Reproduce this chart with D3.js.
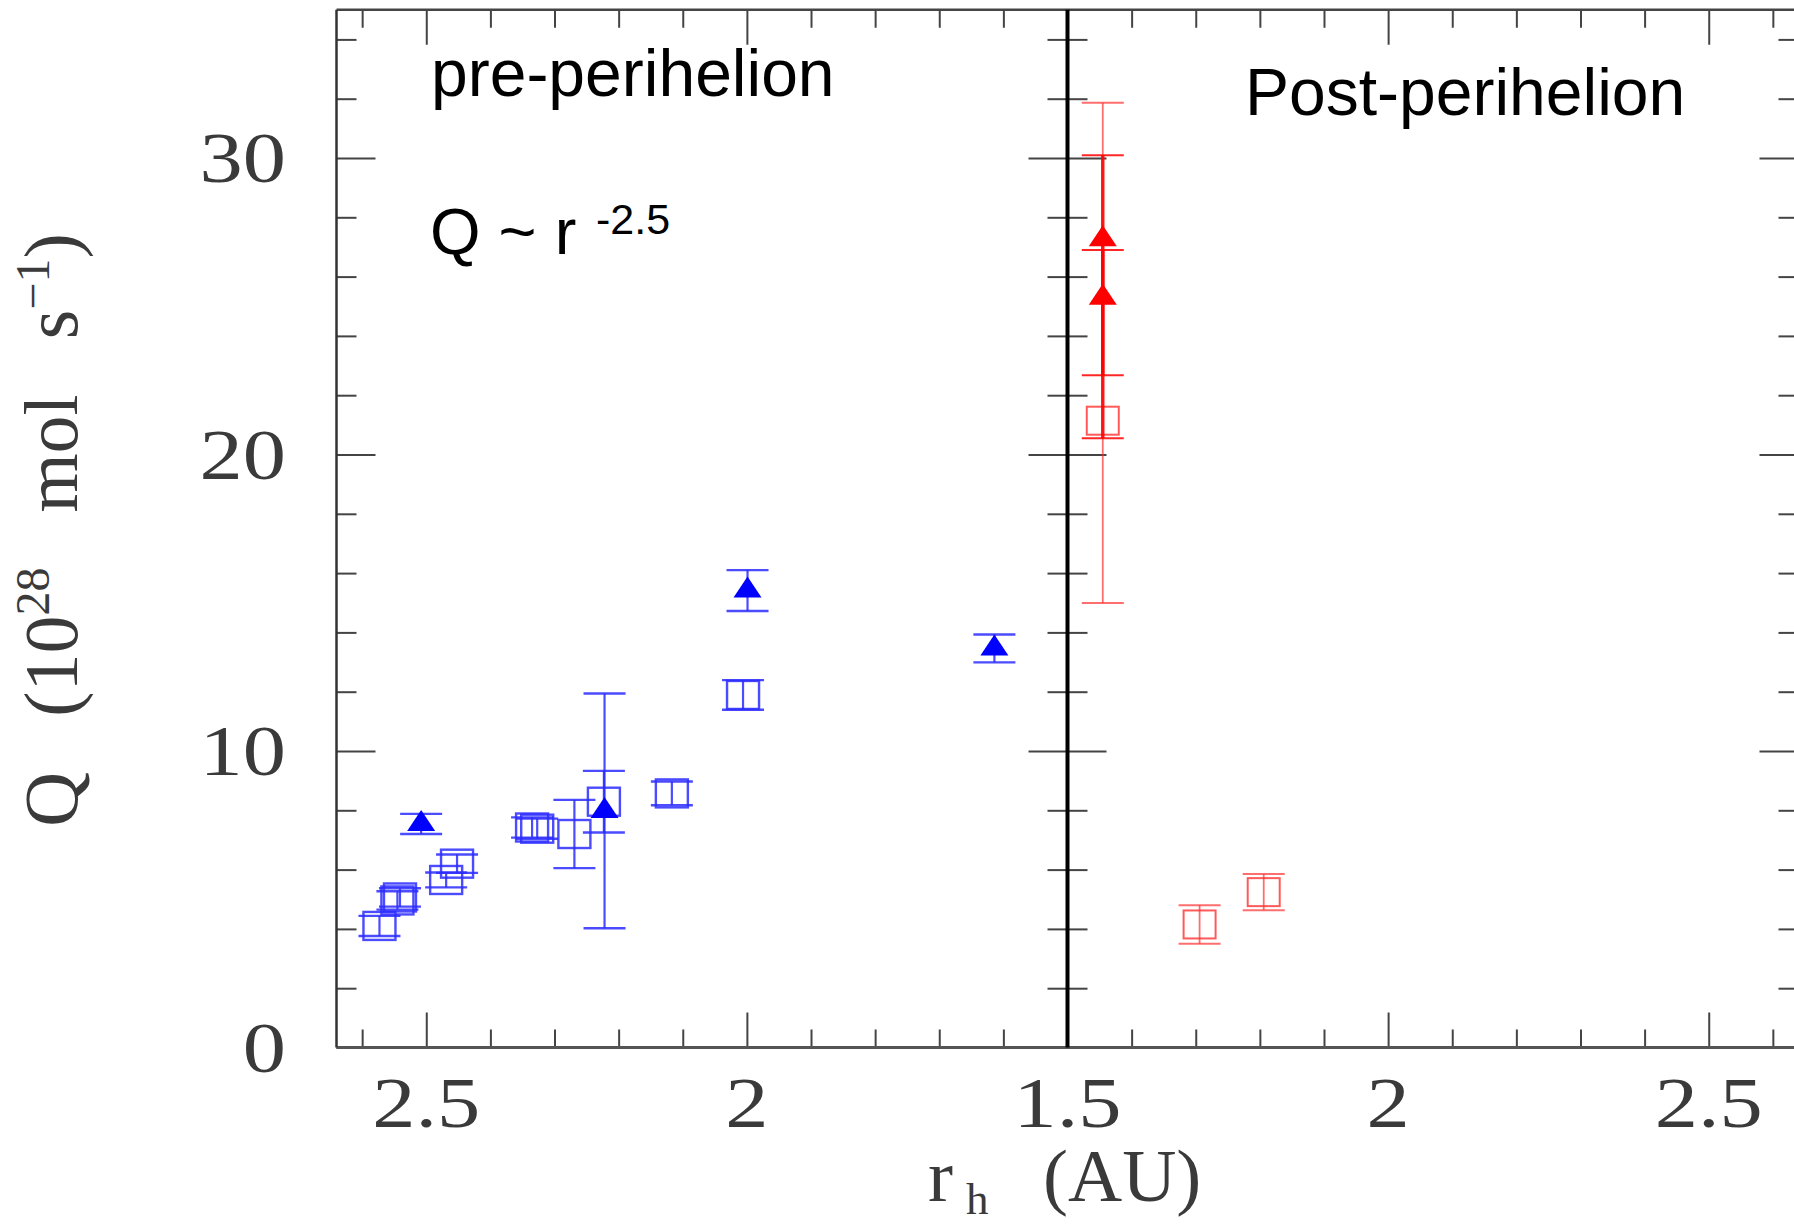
<!DOCTYPE html>
<html>
<head>
<meta charset="utf-8">
<script src="https://cdn.jsdelivr.net/npm/d3@7"></script>
<style>
  body { margin: 0; background: #fff; }
  svg { display: block; }
  .tick line { stroke: #444; stroke-width: 2; }
</style>
</head>
<body>
<svg id="chart"></svg>
<script>
// [r_h, Q, Q_low, Q_high]
const preSquares = [
  [2.573, 4.10, 3.76, 4.44],
  [2.545, 4.96, 4.65, 5.27],
  [2.541, 5.06, 4.75, 5.37],
  [2.469, 5.65, 5.40, 5.90],
  [2.452, 6.20, 5.89, 6.51],
  [2.335, 7.42, 7.08, 7.76],
  [2.327, 7.38, 7.04, 7.72],
  [2.269, 7.20, 6.05, 8.35],
  [2.223, 8.29, 7.25, 9.33],
  [2.117, 8.57, 8.17, 8.97],
  [2.006, 11.89, 11.39, 12.39]
];
const preTriangles = [
  [2.508, 7.54, 7.20, 7.88],
  [2.222, 7.98, 4.02, 11.94],
  [1.999, 15.41, 14.72, 16.10],
  [1.614, 13.46, 12.99, 13.93]
];
const postSquares = [
  [1.555, 21.14, 14.99, 31.86],
  [1.706, 4.15, 3.50, 4.80],
  [1.806, 5.24, 4.63, 5.85]
];
const postTriangles = [
  [1.555, 27.26, 22.67, 30.09],
  [1.555, 25.29, 20.55, 26.90]
];

const yMajor = [0, 10, 20, 30];
const yMinor = [2, 4, 6, 8, 12, 14, 16, 18, 22, 24, 26, 28, 32, 34];
const xMajorPre = [2.5, 2.0];
const xMinorPre = [2.6, 2.4, 2.3, 2.2, 2.1, 1.9, 1.8, 1.7, 1.6];
const xMajorPost = [2.0, 2.5];
const xMinorPost = [1.6, 1.7, 1.8, 1.9, 2.1, 2.2, 2.3, 2.4, 2.6];
const xLabelsPre = ["2.5", "2", "1.5"];
const xLabelsPost = ["2", "2.5"];

const width = 1794, height = 1225;
const plotTop = 9.75, plotBottom = 1047.5, plotLeft = 336.5, plotMid = 1067.5, plotRight = 1798.5;

const svg = d3.select("#chart").attr("width", width).attr("height", height);

const y = d3.scaleLinear().domain([0, 35]).range([plotBottom, plotTop]);
const xPre = d3.scaleLinear().domain([2.64, 1.5]).range([plotLeft, plotMid]);
const xPost = d3.scaleLinear().domain([1.5, 2.64]).range([plotMid, plotRight]);

function tickAxis(axis, tx, ty) {
  const g = svg.append("g").attr("transform", "translate(" + tx + "," + ty + ")").call(axis);
  g.select(".domain").remove();
  g.selectAll("text").remove();
  return g;
}

// x ticks, bottom (pointing up) and top (pointing down)
[[xPre, xMajorPre, xMinorPre], [xPost, xMajorPost, xMinorPost]].forEach(function(p) {
  tickAxis(d3.axisTop(p[0]).tickValues(p[1]).tickSize(35), 0, plotBottom);
  tickAxis(d3.axisTop(p[0]).tickValues(p[2]).tickSize(18), 0, plotBottom);
  tickAxis(d3.axisBottom(p[0]).tickValues(p[1]).tickSize(35), 0, plotTop);
  tickAxis(d3.axisBottom(p[0]).tickValues(p[2]).tickSize(18), 0, plotTop);
});

// y ticks on the left, middle and right lines
[[d3.axisRight, plotLeft], [d3.axisLeft, plotMid], [d3.axisRight, plotMid], [d3.axisLeft, plotRight]].forEach(function(p) {
  tickAxis(p[0](y).tickValues(yMajor).tickSize(39), p[1], 0);
  tickAxis(p[0](y).tickValues(yMinor).tickSize(20), p[1], 0);
});

// frame
svg.append("line").attr("x1", plotLeft).attr("x2", plotRight).attr("y1", plotTop).attr("y2", plotTop)
  .attr("stroke", "#444").attr("stroke-width", 2.5);
svg.append("line").attr("x1", plotLeft).attr("x2", plotRight).attr("y1", plotBottom).attr("y2", plotBottom)
  .attr("stroke", "#555").attr("stroke-width", 3);
svg.append("line").attr("x1", plotLeft).attr("x2", plotLeft).attr("y1", plotTop).attr("y2", plotBottom)
  .attr("stroke", "#333").attr("stroke-width", 2.5);
svg.append("line").attr("x1", plotMid).attr("x2", plotMid).attr("y1", plotTop).attr("y2", plotBottom)
  .attr("stroke", "#000").attr("stroke-width", 4);
svg.append("line").attr("x1", plotRight).attr("x2", plotRight).attr("y1", plotTop).attr("y2", plotBottom)
  .attr("stroke", "#333").attr("stroke-width", 2.5);

// tick labels (stretched serif, like the plotting package font)
const serif = "'Liberation Serif', 'Times New Roman', serif";
const labelInk = "#3a3a3a";
yMajor.forEach(function(v) {
  svg.append("text")
    .attr("transform", "translate(286," + (y(v) + 24) + ") scale(1.2,1)")
    .attr("text-anchor", "end")
    .style("font-family", serif).style("font-size", "72px").attr("fill", labelInk)
    .text(String(v));
});
xLabelsPre.forEach(function(s) {
  svg.append("text")
    .attr("transform", "translate(" + xPre(+s) + ",1127) scale(1.2,1)")
    .attr("text-anchor", "middle")
    .style("font-family", serif).style("font-size", "72px").attr("fill", labelInk)
    .text(s);
});
xLabelsPost.forEach(function(s) {
  svg.append("text")
    .attr("transform", "translate(" + xPost(+s) + ",1127) scale(1.2,1)")
    .attr("text-anchor", "middle")
    .style("font-family", serif).style("font-size", "72px").attr("fill", labelInk)
    .text(s);
});

// axis titles
const xt = svg.append("text").style("font-family", serif).style("font-size", "75px").attr("fill", labelInk);
xt.append("tspan").attr("x", 928).attr("y", 1201).text("r");
xt.append("tspan").attr("x", 966).attr("y", 1214).style("font-size", "45px").text("h");
xt.append("tspan").attr("x", 1043).attr("y", 1201).text("(AU)");

const yt = svg.append("text")
  .attr("transform", "translate(77,530) rotate(-90)")
  .attr("text-anchor", "middle")
  .style("font-family", serif).style("font-size", "76px").style("word-spacing", "36px")
  .attr("fill", labelInk);
yt.append("tspan").text("Q (10");
yt.append("tspan").attr("dy", -28).style("font-size", "48px").text("28");
yt.append("tspan").attr("dy", 28).text(" mol s");
yt.append("tspan").attr("dy", -28).style("font-size", "48px").text("\u22121");
yt.append("tspan").attr("dy", 28).text(")");

// annotations
const sans = "'Liberation Sans', Arial, sans-serif";
svg.append("text").attr("x", 431).attr("y", 96).style("font-family", sans).style("font-size", "66px")
  .text("pre-perihelion");
svg.append("text").attr("x", 430).attr("y", 254).style("font-family", sans).style("font-size", "65px")
  .text("Q ~ r");
svg.append("text").attr("x", 596).attr("y", 234).style("font-family", sans).style("font-size", "43px")
  .text("-2.5");
svg.append("text").attr("x", 1245).attr("y", 115).style("font-family", sans).style("font-size", "66px")
  .text("Post-perihelion");

// markers
const capW = 21, sqW = 16, sqH = 14, triW = 14, triUp = 14, triDown = 7;

function errorBars(g, data, x, color, lw, capLw, op) {
  const eb = g.selectAll(null).data(data).enter().append("g")
    .attr("stroke", color).attr("stroke-opacity", op).attr("fill", "none");
  eb.append("line")
    .attr("x1", function(d) { return x(d[0]); }).attr("x2", function(d) { return x(d[0]); })
    .attr("y1", function(d) { return y(d[2]); }).attr("y2", function(d) { return y(d[3]); })
    .attr("stroke-width", lw);
  [2, 3].forEach(function(k) {
    eb.append("line")
      .attr("x1", function(d) { return x(d[0]) - capW; }).attr("x2", function(d) { return x(d[0]) + capW; })
      .attr("y1", function(d) { return y(d[k]); }).attr("y2", function(d) { return y(d[k]); })
      .attr("stroke-width", capLw);
  });
}

function squares(g, data, x, color, lw, op) {
  g.selectAll(null).data(data).enter().append("rect")
    .attr("x", function(d) { return x(d[0]) - sqW; })
    .attr("y", function(d) { return y(d[1]) - sqH; })
    .attr("width", sqW * 2).attr("height", sqH * 2)
    .attr("fill", "none").attr("stroke", color).attr("stroke-width", lw).attr("stroke-opacity", op);
}

function triangles(g, data, x, color) {
  g.selectAll(null).data(data).enter().append("path")
    .attr("d", function(d) {
      const cx = x(d[0]), cy = y(d[1]);
      return "M" + cx + "," + (cy - triUp) + "L" + (cx + triW) + "," + (cy + triDown) +
        "L" + (cx - triW) + "," + (cy + triDown) + "Z";
    })
    .attr("fill", color);
}

const gPre = svg.append("g");
errorBars(gPre, preSquares, xPre, "#2b2bff", 2.2, 2.4, 0.85);
squares(gPre, preSquares, xPre, "#2b2bff", 2.4, 0.85);
errorBars(gPre, preTriangles, xPre, "#2b2bff", 2.2, 2.4, 0.85);
triangles(gPre, preTriangles, xPre, "#0000ff");

const gPost = svg.append("g");
errorBars(gPost, postSquares, xPost, "#ff3030", 1.8, 2, 0.7);
squares(gPost, postSquares, xPost, "#ff3030", 2, 0.8);
errorBars(gPost, postTriangles, xPost, "#ff0000", 3.5, 2, 0.85);
triangles(gPost, postTriangles, xPost, "#ff0000");
</script>
</body>
</html>
